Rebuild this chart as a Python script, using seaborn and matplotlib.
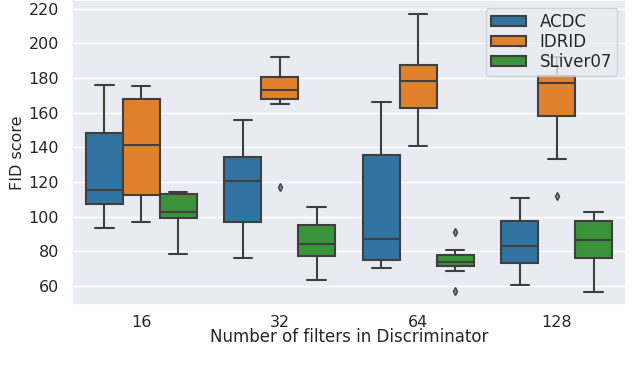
import matplotlib
matplotlib.use("Agg")
import matplotlib.pyplot as plt
import pandas as pd
import seaborn as sns

# FID scores per run, one list per filter setting (16, 32, 64, 128)
filters = [16, 32, 64, 128]
datasets = ['ACDC', 'IDRID', 'SLiver07']

acdc = [
    [93.7, 100.0, 107.5, 111.0, 115.6, 130.0, 148.5, 160.0, 176.0],
    [76.2, 88.0, 97.0, 110.0, 120.4, 128.0, 134.6, 145.0, 155.6],
    [70.2, 72.5, 74.9, 80.0, 87.0, 110.0, 135.8, 150.0, 166.4],
    [60.3, 68.0, 73.5, 78.0, 83.1, 90.0, 97.3, 110.6, 199.8],
]
idrid = [
    [97.2, 105.0, 112.7, 128.0, 141.6, 155.0, 167.7, 172.0, 175.4],
    [117.3, 164.8, 167.7, 170.0, 173.1, 177.0, 180.8, 186.0, 191.9],
    [140.6, 152.0, 162.9, 171.0, 178.5, 183.0, 187.3, 200.0, 216.9],
    [112.2, 133.1, 158.1, 170.0, 177.3, 179.0, 181.1, 186.0, 192.0],
]
sliver07 = [
    [78.7, 92.0, 99.1, 101.0, 102.4, 108.0, 113.1, 114.0, 114.5],
    [63.3, 71.0, 77.3, 81.0, 84.1, 90.0, 95.4, 100.0, 105.8],
    [56.9, 68.9, 71.6, 72.8, 73.9, 76.0, 77.9, 81.0, 91.4],
    [56.4, 68.0, 76.2, 82.0, 86.8, 92.0, 97.3, 100.0, 102.7],
]

# long-form table for seaborn
rows = []
for name, groups in zip(datasets, [acdc, idrid, sliver07]):
    for f, vals in zip(filters, groups):
        for v in vals:
            rows.append({'filters': f, 'dataset': name, 'FID': v})
df = pd.DataFrame(rows)

sns.set_theme(style='darkgrid')
plt.rcParams['font.family'] = ['DejaVu Sans']

fig = plt.figure(figsize=(6.4, 3.72), dpi=100)
ax = fig.add_axes([0.1125, 0.18, 0.8656, 0.82])

sns.boxplot(data=df, x='filters', y='FID', hue='dataset', ax=ax,
            palette=['#1f77b4', '#ff7f0e', '#2ca02c'], saturation=0.75,
            linecolor='#3f3f3f', linewidth=1.5, width=0.8,
            flierprops=dict(marker='d', markersize=4,
                            markerfacecolor='#8a8a8a', markeredgecolor='#3f3f3f'))

ax.set_ylim(49, 225)
ax.set_yticks(range(60, 221, 20))
ax.tick_params(labelsize=11.5)
ax.tick_params(axis='x', pad=1)
ax.set_xlabel('Number of filters in Discriminator', fontsize=12, labelpad=-1)
ax.set_ylabel('FID score', fontsize=11.5, labelpad=2)

ax.legend(loc='upper right', fontsize=12, framealpha=0.8,
          labelspacing=0.12, handleheight=0.6, handlelength=2.1,
          borderpad=0.3, bbox_to_anchor=(0.99, 0.985), borderaxespad=0.2)

fig.savefig('out.png', dpi=100)
